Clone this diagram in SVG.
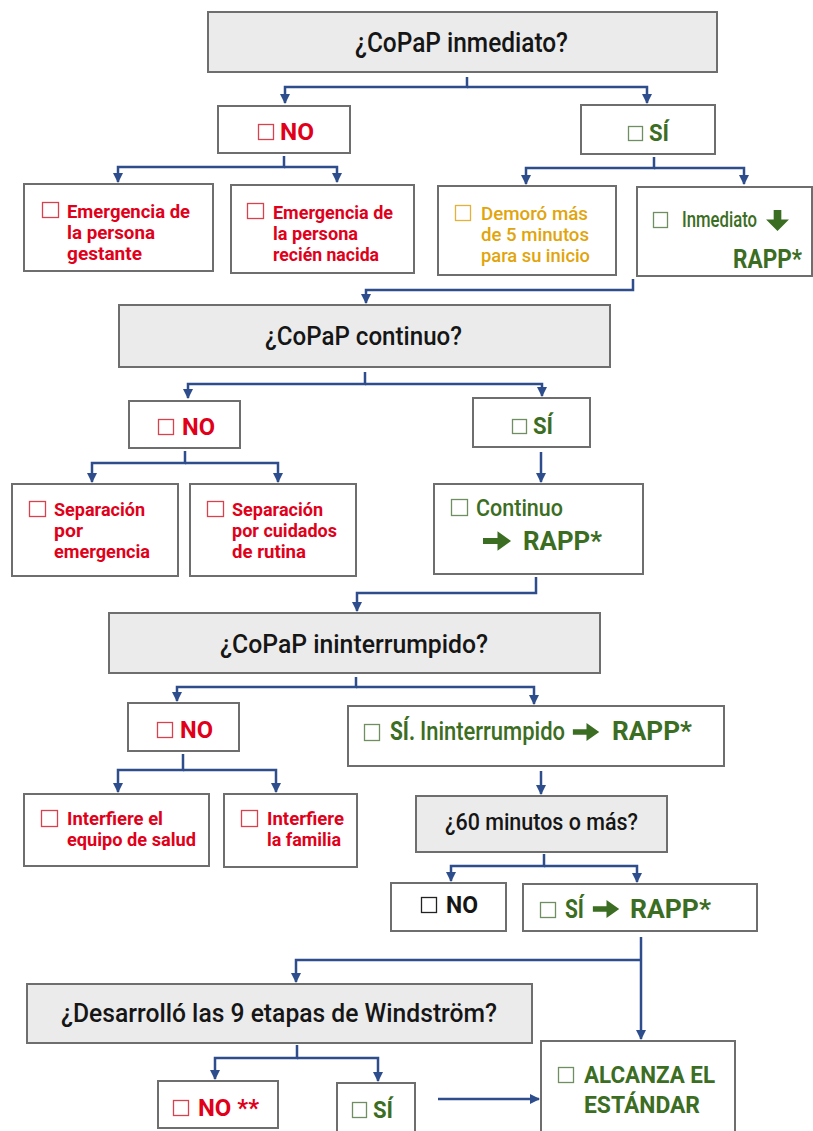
<svg xmlns="http://www.w3.org/2000/svg" xmlns:xlink="http://www.w3.org/1999/xlink" width="813" height="1131" viewBox="0 0 813 1131">
<defs>
<style>
text{font-family:Roboto,"Liberation Sans",sans-serif;}
.box{fill:#fff;stroke:#6e6e6e;stroke-width:2;}
.q{fill:#ebebeb;stroke:#6e6e6e;stroke-width:2;}
.conn{fill:none;stroke:#2d4d8c;stroke-width:2.5;marker-end:url(#ah);}
.title{fill:#161616;font-weight:500;}
.red{fill:#e1001a;font-weight:700;}
.grn{fill:#3b6d22;font-weight:500;}
.grnb{fill:#3b6d22;font-weight:700;}
.yel{fill:#e2a40c;font-weight:500;}
.blk{fill:#161616;font-weight:700;}
.ml{font-size:17.9px;}
.cbr{fill:none;stroke:#d8424f;stroke-width:1.3;}
.cbg{fill:none;stroke:#6f8f62;stroke-width:1.3;}
.cby{fill:none;stroke:#e2b23a;stroke-width:1.3;}
.cbk{fill:none;stroke:#222;stroke-width:1.3;}
.ga{fill:#3b6d22;}
</style>
<marker id="ah" viewBox="0 0 10 10" refX="9" refY="5" markerWidth="4" markerHeight="4" orient="auto" markerUnits="strokeWidth">
<path d="M0,0 L10,5 L0,10 z" fill="#2d4d8c"/>
</marker>
<symbol id="arR" viewBox="0 0 30 22"><polygon points="0,8 15,8 15,1 29,11 15,21 15,14 0,14"/></symbol>
<symbol id="arD" viewBox="0 0 30 22"><polygon points="11,0 19,0 19,10 27,10 15,22 3,10 11,10"/></symbol>
</defs>

<g id="connectors">
<path class="conn" d="M467,77 V87 H285 V103"/>
<path class="conn" d="M467,87 H647 V103"/>
<path class="conn" d="M284,156 V167 H118 V182"/>
<path class="conn" d="M284,167 H337 V182"/>
<path class="conn" d="M654,157 V168 H526 V184"/>
<path class="conn" d="M654,168 H744 V184"/>
<path class="conn" d="M633,279 V290 H366 V303"/>
<path class="conn" d="M365,372 V384 H188 V398"/>
<path class="conn" d="M365,384 H542 V396"/>
<path class="conn" d="M185,451 V463 H92 V482"/>
<path class="conn" d="M185,463 H278 V482"/>
<path class="conn" d="M541,452 V482"/>
<path class="conn" d="M536,577 V593 H357 V611"/>
<path class="conn" d="M356,677 V687 H177 V701"/>
<path class="conn" d="M356,687 H534 V704"/>
<path class="conn" d="M183,754 V770 H118 V792"/>
<path class="conn" d="M183,770 H276 V792"/>
<path class="conn" d="M541,771 V794"/>
<path class="conn" d="M544,854 V866 H451 V881"/>
<path class="conn" d="M544,866 H637 V882"/>
<path class="conn" d="M641,937 V1039"/>
<path class="conn" d="M641,960 H296 V982"/>
<path class="conn" d="M297,1045 V1058 H215 V1079"/>
<path class="conn" d="M297,1058 H378 V1081"/>
<path class="conn" d="M438,1099 H539"/>
</g>

<g id="q1">
<rect class="q" x="208" y="12" width="509" height="60"/>
<text class="title" x="355" y="52" font-size="28" textLength="213" lengthAdjust="spacingAndGlyphs">¿CoPaP inmediato?</text>
</g>
<g id="no1">
<rect class="box" x="218" y="106" width="132" height="47"/>
<rect class="cbr" x="258.5" y="124.5" width="15" height="15"/>
<text class="red" x="280" y="140" font-size="24" textLength="34" lengthAdjust="spacingAndGlyphs">NO</text>
</g>
<g id="si1">
<rect class="box" x="581" y="105" width="134" height="49"/>
<rect class="cbg" x="628.5" y="126.5" width="14" height="14"/>
<text class="grnb" x="649" y="141" font-size="24" textLength="20" lengthAdjust="spacingAndGlyphs">SÍ</text>
</g>
<g id="emg1">
<rect class="box" x="24" y="184" width="189" height="87"/>
<rect class="cbr" x="42.5" y="202.5" width="16" height="15"/>
<text class="red ml"><tspan x="67" y="218" textLength="123" lengthAdjust="spacingAndGlyphs">Emergencia de</tspan><tspan x="67" y="239" textLength="88" lengthAdjust="spacingAndGlyphs">la persona</tspan><tspan x="67" y="260" textLength="75" lengthAdjust="spacingAndGlyphs">gestante</tspan></text>
</g>
<g id="emg2">
<rect class="box" x="231" y="185" width="183" height="88"/>
<rect class="cbr" x="247.5" y="203.5" width="16" height="15"/>
<text class="red ml"><tspan x="273" y="219" textLength="120" lengthAdjust="spacingAndGlyphs">Emergencia de</tspan><tspan x="273" y="240" textLength="85" lengthAdjust="spacingAndGlyphs">la persona</tspan><tspan x="273" y="261" textLength="106" lengthAdjust="spacingAndGlyphs">recién nacida</tspan></text>
</g>
<g id="demoro">
<rect class="box" x="438" y="186" width="178" height="89"/>
<rect class="cby" x="455.5" y="205.5" width="15" height="15"/>
<text class="yel ml"><tspan x="481" y="220" textLength="107" lengthAdjust="spacingAndGlyphs">Demoró más</tspan><tspan x="481" y="241" textLength="108" lengthAdjust="spacingAndGlyphs">de 5 minutos</tspan><tspan x="481" y="262" textLength="109" lengthAdjust="spacingAndGlyphs">para su inicio</tspan></text>
</g>
<g id="inmediato">
<rect class="box" x="637" y="187" width="175" height="89"/>
<rect class="cbg" x="653.5" y="212.5" width="14" height="15"/>
<text class="grn" x="682" y="227" font-size="22" textLength="75" lengthAdjust="spacingAndGlyphs">Inmediato</text>
<use href="#arD" x="762" y="210" width="31" height="21" class="ga"/>
<text class="grnb" x="733" y="268" font-size="26" textLength="69" lengthAdjust="spacingAndGlyphs">RAPP*</text>
</g>

<g id="q2">
<rect class="q" x="119" y="305" width="491" height="62"/>
<text class="title" x="265" y="345" font-size="26" textLength="197" lengthAdjust="spacingAndGlyphs">¿CoPaP continuo?</text>
</g>
<g id="no2">
<rect class="box" x="129" y="401" width="111" height="47"/>
<rect class="cbr" x="158.5" y="419.5" width="15" height="15"/>
<text class="red" x="182" y="435" font-size="24" textLength="33" lengthAdjust="spacingAndGlyphs">NO</text>
</g>
<g id="si2">
<rect class="box" x="473" y="398" width="117" height="49"/>
<rect class="cbg" x="512.5" y="419.5" width="14" height="14"/>
<text class="grnb" x="533" y="434" font-size="24" textLength="20" lengthAdjust="spacingAndGlyphs">SÍ</text>
</g>
<g id="sep1">
<rect class="box" x="12" y="484" width="166" height="92"/>
<rect class="cbr" x="29.5" y="501.5" width="16" height="15"/>
<text class="red ml"><tspan x="54" y="516" textLength="91" lengthAdjust="spacingAndGlyphs">Separación</tspan><tspan x="54" y="537" textLength="29" lengthAdjust="spacingAndGlyphs">por</tspan><tspan x="54" y="558" textLength="96" lengthAdjust="spacingAndGlyphs">emergencia</tspan></text>
</g>
<g id="sep2">
<rect class="box" x="190" y="484" width="166" height="92"/>
<rect class="cbr" x="207.5" y="501.5" width="16" height="15"/>
<text class="red ml"><tspan x="232" y="516" textLength="91" lengthAdjust="spacingAndGlyphs">Separación</tspan><tspan x="232" y="537" textLength="105" lengthAdjust="spacingAndGlyphs">por cuidados</tspan><tspan x="232" y="558" textLength="74" lengthAdjust="spacingAndGlyphs">de rutina</tspan></text>
</g>
<g id="continuo">
<rect class="box" x="434" y="484" width="209" height="90"/>
<rect class="cbg" x="451.5" y="499.5" width="16" height="16"/>
<text class="grn" x="476" y="516" font-size="24" textLength="87" lengthAdjust="spacingAndGlyphs">Continuo</text>
<use href="#arR" x="483" y="530" width="29" height="22" class="ga"/>
<text class="grnb" x="523" y="550" font-size="26" textLength="79" lengthAdjust="spacingAndGlyphs">RAPP*</text>
</g>

<g id="q3">
<rect class="q" x="109" y="613" width="491" height="60"/>
<text class="title" x="220" y="653" font-size="26" textLength="268" lengthAdjust="spacingAndGlyphs">¿CoPaP ininterrumpido?</text>
</g>
<g id="no3">
<rect class="box" x="128" y="703" width="111" height="48"/>
<rect class="cbr" x="157.5" y="722.5" width="15" height="15"/>
<text class="red" x="180" y="738" font-size="24" textLength="33" lengthAdjust="spacingAndGlyphs">NO</text>
</g>
<g id="si3">
<rect class="box" x="348" y="706" width="376" height="60"/>
<rect class="cbg" x="364.5" y="724.5" width="15" height="16"/>
<text x="390" y="740" font-size="25"><tspan class="grnb" textLength="25" lengthAdjust="spacingAndGlyphs">SÍ.</tspan><tspan class="grn" x="420" textLength="145" lengthAdjust="spacingAndGlyphs">Ininterrumpido</tspan></text>
<use href="#arR" x="572" y="722" width="29" height="20" class="ga"/>
<text class="grnb" x="612" y="740" font-size="25" textLength="80" lengthAdjust="spacingAndGlyphs">RAPP*</text>
</g>
<g id="int1">
<rect class="box" x="24" y="794" width="185" height="72"/>
<rect class="cbr" x="41.5" y="810.5" width="16" height="16"/>
<text class="red ml"><tspan x="67" y="825" textLength="96" lengthAdjust="spacingAndGlyphs">Interfiere el</tspan><tspan x="67" y="846" textLength="129" lengthAdjust="spacingAndGlyphs">equipo de salud</tspan></text>
</g>
<g id="int2">
<rect class="box" x="224" y="794" width="133" height="73"/>
<rect class="cbr" x="241.5" y="810.5" width="16" height="16"/>
<text class="red ml"><tspan x="267" y="825" textLength="77" lengthAdjust="spacingAndGlyphs">Interfiere</tspan><tspan x="267" y="846" textLength="74" lengthAdjust="spacingAndGlyphs">la familia</tspan></text>
</g>
<g id="q4">
<rect class="q" x="416" y="796" width="251" height="56"/>
<text class="title" x="445" y="830" font-size="24" textLength="193" lengthAdjust="spacingAndGlyphs">¿60 minutos o más?</text>
</g>
<g id="no4">
<rect class="box" x="391" y="883" width="115" height="48"/>
<rect class="cbk" x="421.5" y="897.5" width="15" height="15"/>
<text class="blk" x="446" y="913" font-size="23" textLength="32" lengthAdjust="spacingAndGlyphs">NO</text>
</g>
<g id="si4">
<rect class="box" x="523" y="884" width="234" height="47"/>
<rect class="cbg" x="540.5" y="902.5" width="15" height="15"/>
<text class="grnb" x="565" y="918" font-size="25" textLength="19" lengthAdjust="spacingAndGlyphs">SÍ</text>
<use href="#arR" x="592" y="899" width="29" height="20" class="ga"/>
<text class="grnb" x="630" y="918" font-size="25" textLength="81" lengthAdjust="spacingAndGlyphs">RAPP*</text>
</g>
<g id="q5">
<rect class="q" x="27" y="984" width="505" height="59"/>
<text class="title" x="61" y="1022" font-size="25" textLength="436" lengthAdjust="spacingAndGlyphs">¿Desarrolló las 9 etapas de Windström?</text>
</g>
<g id="no5">
<rect class="box" x="158" y="1081" width="120" height="47"/>
<rect class="cbr" x="173.5" y="1100.5" width="15" height="15"/>
<text class="red" x="198" y="1116" font-size="24" textLength="61" lengthAdjust="spacingAndGlyphs">NO **</text>
</g>
<g id="si5">
<rect class="box" x="337" y="1083" width="78" height="50"/>
<rect class="cbg" x="352.5" y="1102.5" width="14" height="15"/>
<text class="grnb" x="373" y="1118" font-size="24" textLength="20" lengthAdjust="spacingAndGlyphs">SÍ</text>
</g>
<g id="alcanza">
<rect class="box" x="541" y="1041" width="194" height="100"/>
<rect class="cbg" x="558.5" y="1067.5" width="15" height="15"/>
<text class="grnb" font-size="24"><tspan x="584" y="1083" textLength="131" lengthAdjust="spacingAndGlyphs">ALCANZA EL</tspan><tspan x="584" y="1113" textLength="116" lengthAdjust="spacingAndGlyphs">ESTÁNDAR</tspan></text>
</g>
</svg>
